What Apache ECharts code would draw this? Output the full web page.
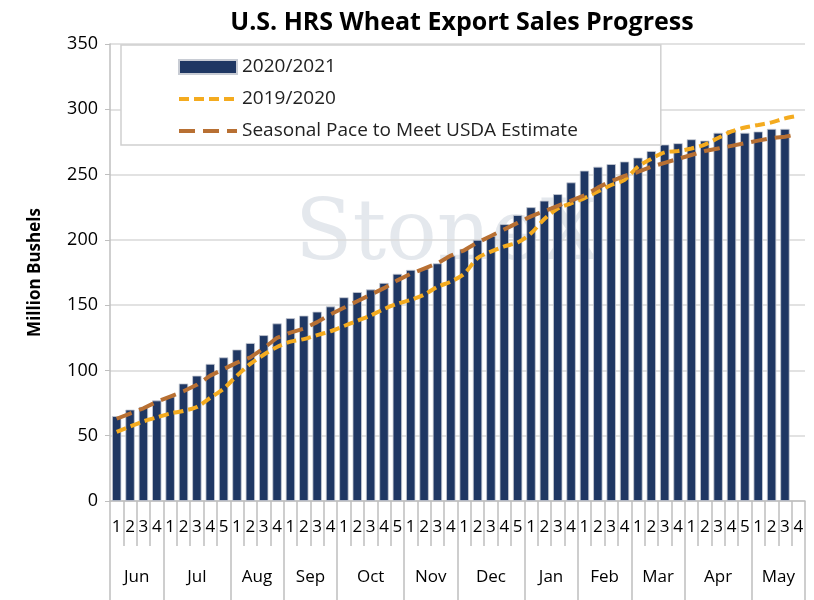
<!DOCTYPE html>
<html><head><meta charset="utf-8">
<script src="https://cdn.jsdelivr.net/npm/echarts@6/dist/echarts.min.js"></script>
<style>html,body{margin:0;padding:0;background:#fff}#c{width:814px;height:600px}</style>
</head><body><div id="c"></div>
<script>
let weekLabels = ['1','2','3','4','1','2','3','4','5','1','2','3','4','1','2','3','4','1','2','3','4','5','1','2','3','4','1','2','3','4','5','1','2','3','4','1','2','3','4','1','2','3','4','1','2','3','4','5','1','2','3','4']
let months = ['Jun','Jul','Aug','Sep','Oct','Nov','Dec','Jan','Feb','Mar','Apr','May']
let monthWeeks = [4,5,4,4,5,4,5,4,4,4,5,4]
let sales2021 = [65,70,72,77,80,90,96,105,110,116,121,127,136,140,142,145,149,156,160,162,167,174,177,178,182,188,193,200,203,212,219,225,230,235,244,253,256,258,260,263,268,273,274,277,276,282,284,282,283,285,285]
let sales2020 = [53,57,61,64,67,69,72,79,86,96,105,112,118,122,124,127,130,134,138,142,147,151,154,158,164,168,174,186,191,195,198,205,216,224,228,232,237,242,246,256,262,267,268,270,273,278,283,286,288,290,293,295]
let pace = [63,67,71,76,80,84,89,96,101,106,110,117,125,129,132,137,143,148,153,158,163,169,174,178,182,188,192,198,203,208,213,218,222,226,230,234,240,245,249,252,256,259,262,265,268,270,272,274,276,278,279,281]

let font = 'Open Sans'
let cats = weekLabels.map((w, i) => i + '')
// month boundaries and label positions
let starts = [], mids = {}
let acc = 0
monthWeeks.forEach((n, m) => {
    starts.push(acc)
    mids[acc + Math.floor((n - 1) / 2)] = {name: months[m], even: n % 2 === 0}
    acc += n
})
starts.push(acc)

let chart = echarts.init(document.getElementById('c'))
chart.setOption({
    animation: false,
    textStyle: {fontFamily: font},
    title: {
        text: 'U.S. HRS Wheat Export Sales Progress',
        left: 457, textAlign: 'center', top: 5,
        textStyle: {fontSize: 25, fontWeight: 'bold', color: '#000', fontFamily: font}
    },
    graphic: [{
        type: 'text', left: 295, top: 195, silent: true,
        style: {text: 'StoneX', fontSize: 84, fontFamily: 'DejaVu Serif', fill: 'rgba(120,140,165,0.2)'}
    }],
    legend: {
        orient: 'vertical', left: 121, top: 45,
        padding: [12, 83, 4, 56], itemGap: 12,
        backgroundColor: '#fff', borderColor: '#d0d0d0', borderWidth: 1.5,
        itemWidth: 58, itemHeight: 14,
        textStyle: {fontSize: 19, color: '#222', fontFamily: font, lineHeight: 20},
        data: [
            {name: '2020/2021', icon: 'rect'},
            {name: '2019/2020', itemStyle: {opacity: 0}, lineStyle: {width: 4, type: [10, 5]}},
            {name: 'Seasonal Pace to Meet USDA Estimate', itemStyle: {opacity: 0}, lineStyle: {width: 4, type: [16, 8]}}
        ]
    },
    grid: {left: 110, right: 9, top: 44, bottom: 99},
    xAxis: [{
        type: 'category', data: cats, position: 'bottom',
        axisLine: {lineStyle: {color: '#bfbfbf', width: 1.5}},
        axisTick: {show: true, length: 45, interval: 0, lineStyle: {color: '#bfbfbf', width: 1.5}},
        axisLabel: {interval: 0, margin: 18, fontSize: 17, color: '#000', formatter: (v, i) => weekLabels[i]}
    }, {
        type: 'category', data: cats, position: 'bottom',
        axisLine: {show: false},
        axisTick: {show: true, length: 99, interval: (i) => starts.includes(i), lineStyle: {color: '#bfbfbf', width: 1.5}},
        axisLabel: {
            interval: 0, margin: 68, fontSize: 17, color: '#000',
            formatter: (v, i) => {
                let m = mids[i]
                if (!m) return ''
                return m.even ? '{e|' + m.name + '}' : m.name
            },
            rich: {e: {fontSize: 17, color: '#000', fontFamily: font, padding: [0, 0, 0, 13.4]}}
        }
    }],
    yAxis: {
        type: 'value', min: 0, max: 350, interval: 50,
        name: 'Million Bushels', nameLocation: 'middle', nameGap: 66,
        nameTextStyle: {fontSize: 17, fontWeight: 'bold', color: '#000', fontFamily: font},
        axisLine: {show: true, lineStyle: {color: '#bfbfbf', width: 1.5}},
        axisTick: {show: true, length: 5, lineStyle: {color: '#bfbfbf'}},
        axisLabel: {fontSize: 18, color: '#000', margin: 12},
        splitLine: {lineStyle: {color: '#d9d9d9', width: 1.5}}
    },
    series: [{
        name: '2020/2021', type: 'bar', data: sales2021, barCategoryGap: '30%',
        itemStyle: {color: '#1f3763', borderColor: '#c8ccd4', borderWidth: 0.8}
    }, {
        name: '2019/2020', type: 'line', data: sales2020, symbol: 'none', smooth: 0.3,
        itemStyle: {color: '#f4ab1f'},
        lineStyle: {color: '#f4ab1f', width: 4, type: [10, 5]}
    }, {
        name: 'Seasonal Pace to Meet USDA Estimate', type: 'line', data: pace, symbol: 'none',
        itemStyle: {color: '#b87033'},
        lineStyle: {color: '#b87033', width: 4, type: [16, 8]}
    }]
})
</script></body></html>
